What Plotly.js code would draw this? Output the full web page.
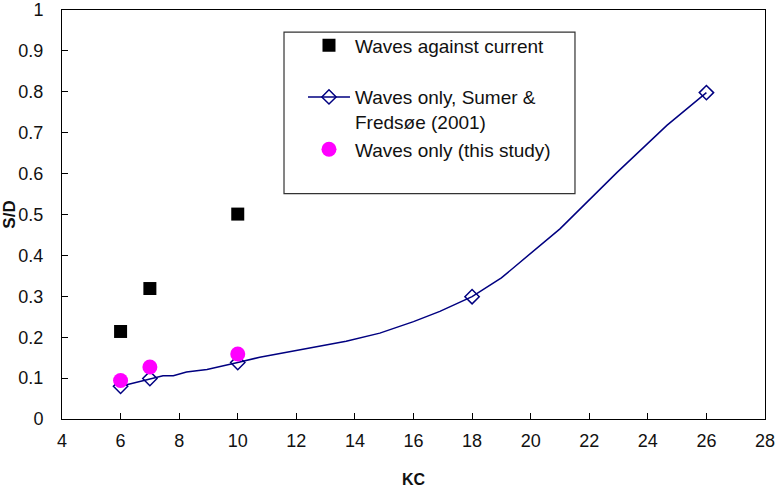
<!DOCTYPE html>
<html>
<head>
<meta charset="utf-8">
<script src="https://cdn.plot.ly/plotly-3.0.1.min.js"></script>
<style>
  html, body { margin: 0; padding: 0; background: #ffffff; }
  #chart { width: 775px; height: 490px; }
</style>
</head>
<body>
<div id="chart"></div>
<script>
// Scour depth S/D against Keulegan-Carpenter number KC

// Waves against current
const againstKC = [6, 7, 10];
const againstSD = [0.214, 0.319, 0.501];

// Waves only (this study)
const studyKC = [6, 7, 10];
const studySD = [0.094, 0.127, 0.159];

const curveKC = [6, 7, 7.45, 7.8, 8.25, 8.95, 9.6, 10, 10.75, 11.45, 12.5, 13.7,
                 14.85, 15.55, 16, 16.9, 18, 19, 20.05, 21, 22.95, 24.65, 26];
const curveSD = [0.08, 0.099, 0.106, 0.106, 0.115, 0.121, 0.131, 0.138, 0.151, 0.160, 0.174, 0.190,
                 0.210, 0.226, 0.238, 0.263, 0.299, 0.345, 0.408, 0.465, 0.603, 0.718, 0.798];
// KC values on the curve that carry a diamond marker
const sumerKC = [6, 7, 10, 18, 26];

const xTicks = [4, 6, 8, 10, 12, 14, 16, 18, 20, 22, 24, 26, 28];
const yTicks = [0, 0.1, 0.2, 0.3, 0.4, 0.5, 0.6, 0.7, 0.8, 0.9, 1];

const FONT = 'Arial, "Liberation Sans", sans-serif';
const NAVY = '#000080';

const traces = [
  {
    x: againstKC, y: againstSD,
    name: 'Waves against current',
    type: 'scatter', mode: 'markers',
    legendgroup: 'a',
    marker: { symbol: 'square', size: 13, color: '#000000' }
  },
  {
    x: curveKC, y: curveSD,
    name: 'Waves only, Sumer &<br>Fredsøe (2001)',
    type: 'scatter', mode: 'lines+markers',
    legendgroup: 'b',
    line: { color: NAVY, width: 1.5 },
    marker: {
      symbol: 'diamond-open', size: 11,
      color: curveKC.map(k => sumerKC.includes(k) ? NAVY : 'rgba(0,0,0,0)'),
      line: { width: 1.5 }
    }
  },
  {
    x: studyKC, y: studySD,
    name: 'Waves only (this study)',
    type: 'scatter', mode: 'markers',
    legendgroup: 'b',
    marker: { symbol: 'circle', size: 15, color: '#ff00ff' }
  }
];

const axisCommon = {
  showgrid: false, zeroline: false,
  showline: true, linecolor: '#000000', linewidth: 1, mirror: true,
  ticks: 'inside', ticklen: 6, tickcolor: '#000000', tickwidth: 1,
  ticklabeloverflow: 'allow',
  tickfont: { family: FONT, size: 18, color: '#111111' }
};

const layout = {
  width: 775, height: 490,
  margin: { l: 62, r: 10, t: 10, b: 71 },
  paper_bgcolor: '#ffffff', plot_bgcolor: '#ffffff',
  font: { family: FONT, color: '#111111' },
  xaxis: Object.assign({}, axisCommon, {
    range: [4, 28], tickvals: xTicks,
    ticklabelstandoff: 5,
    title: { text: '<b>KC</b>', font: { family: FONT, size: 16, color: '#111111' }, standoff: 24 }
  }),
  yaxis: Object.assign({}, axisCommon, {
    range: [0, 1], tickvals: yTicks,
    ticklabelstandoff: 14,
    title: { text: '<b>S/D</b>', font: { family: FONT, size: 17, color: '#111111' }, standoff: 60 }
  }),
  showlegend: true,
  legend: {
    x: 0.3428, y: 0.96, xanchor: 'left', yanchor: 'top',
    bgcolor: 'rgba(0,0,0,0)', borderwidth: 0,
    traceorder: 'grouped', tracegroupgap: 24,
    itemwidth: 42, valign: 'top',
    font: { family: FONT, size: 19, color: '#111111' }
  },
  shapes: [
    {
      type: 'rect', xref: 'paper', yref: 'paper', layer: 'below',
      x0: 0.3158, x1: 0.7297, y0: 0.551, y1: 0.946,
      line: { color: '#333333', width: 1.2 }, fillcolor: '#ffffff'
    }
  ]
};

Plotly.newPlot('chart', traces, layout, { staticPlot: true, displayModeBar: false });
</script>
</body>
</html>
